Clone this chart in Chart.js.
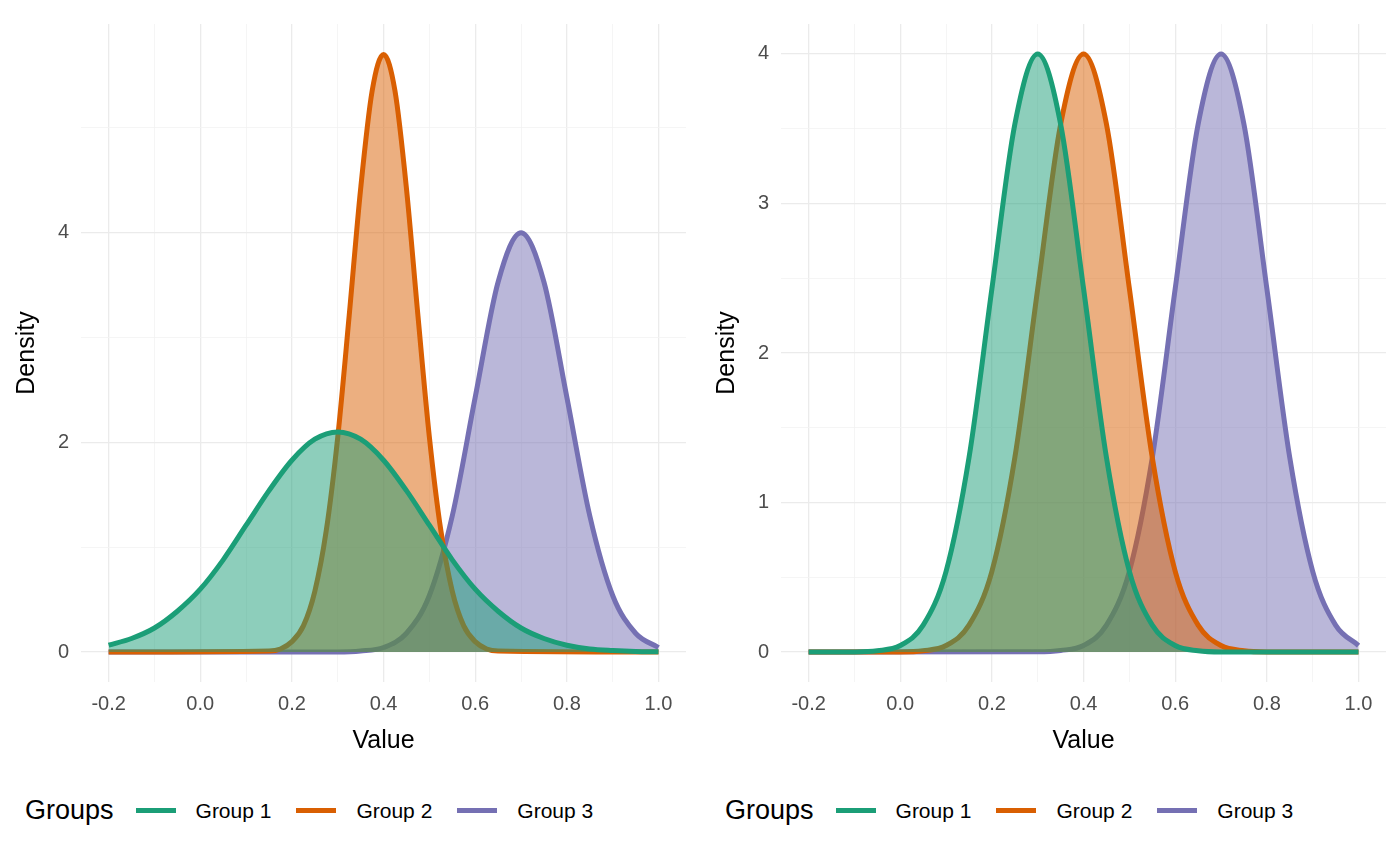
<!DOCTYPE html>
<html>
<head>
<meta charset="utf-8">
<script src="https://cdn.jsdelivr.net/npm/chart.js@4"></script>
<style>
  body { margin: 0; background: #fff; font-family: "Liberation Sans", Arial, sans-serif; }
  .panel { position: absolute; top: 0; width: 700px; height: 865px; overflow: hidden; }
  .cv { position: absolute; left: 0; top: 0; width: 700px; height: 770px; }
  .legend { position: absolute; left: 25px; top: 795px; white-space: nowrap; display: flex; align-items: center; }
  .legend .ttl { font-size: 27px; color: #000; margin-right: 22px; }
  .legend .sw { display: inline-block; width: 40px; height: 5px; margin-right: 20px; }
  .legend .lb { font-size: 21px; color: #000; margin-right: 25px; }
</style>
</head>
<body>
<div class="panel" style="left:0"><div class="cv"><canvas id="left"></canvas></div><div class="legend" id="legL"></div></div>
<div class="panel" style="left:700px"><div class="cv"><canvas id="right"></canvas></div><div class="legend" id="legR"></div></div>
<script>
"use strict";
const groupNames = ["Group 1", "Group 2", "Group 3"];
const colors = ["#1B9E77", "#D95F02", "#7570B3"];
const xTicks = [-0.2, 0, 0.2, 0.4, 0.6, 0.8, 1.0];

// left panel
const leftG1x = [-0.2, -0.15, -0.1, -0.05, 0, 0.05, 0.1, 0.15, 0.2, 0.25, 0.3, 0.35, 0.4, 0.45, 0.5, 0.55, 0.6, 0.65, 0.7, 0.75, 0.8, 0.85, 0.9, 0.95, 1.0];
const leftG1y = [0.066, 0.13, 0.23, 0.39, 0.60, 0.88, 1.21, 1.54, 1.83, 2.03, 2.1, 2.03, 1.83, 1.54, 1.21, 0.88, 0.60, 0.39, 0.23, 0.13, 0.066, 0.03, 0.015, 0.006, 0.003];
const leftG2x = [-0.2, 0.15, 0.175, 0.2, 0.225, 0.25, 0.275, 0.3, 0.325, 0.35, 0.375, 0.4, 0.425, 0.45, 0.475, 0.5, 0.525, 0.55, 0.575, 0.6, 0.625, 0.65, 1.0];
const leftG2y = [0, 0.01, 0.03, 0.10, 0.25, 0.58, 1.16, 2.05, 3.21, 4.42, 5.35, 5.7, 5.35, 4.42, 3.21, 2.05, 1.16, 0.58, 0.25, 0.10, 0.03, 0.01, 0];
const leftG3x = [-0.2, 0.3, 0.35, 0.4, 0.45, 0.5, 0.55, 0.6, 0.65, 0.7, 0.75, 0.8, 0.85, 0.9, 0.95, 1.0];
const leftG3y = [0, 0.002, 0.011, 0.044, 0.18, 0.54, 1.30, 2.43, 3.53, 4, 3.53, 2.43, 1.30, 0.54, 0.18, 0.044];
const leftYTicks = [0, 2, 4];

// right panel
const rightG1x = [-0.2, -0.1, -0.05, 0, 0.05, 0.1, 0.15, 0.2, 0.25, 0.3, 0.35, 0.4, 0.45, 0.5, 0.55, 0.6, 0.65, 0.7, 1.0];
const rightG1y = [0, 0.001, 0.009, 0.044, 0.18, 0.54, 1.30, 2.43, 3.53, 4, 3.53, 2.43, 1.30, 0.54, 0.18, 0.044, 0.009, 0.001, 0];
const rightG2x = [-0.2, 0.0, 0.05, 0.1, 0.15, 0.2, 0.25, 0.3, 0.35, 0.4, 0.45, 0.5, 0.55, 0.6, 0.65, 0.7, 0.75, 0.8, 1.0];
const rightG2y = [0, 0.001, 0.009, 0.044, 0.18, 0.54, 1.30, 2.43, 3.53, 4, 3.53, 2.43, 1.30, 0.54, 0.18, 0.044, 0.009, 0.001, 0];
const rightG3x = leftG3x;
const rightG3y = leftG3y;
const rightYTicks = [0, 1, 2, 3, 4];

const zip = (xs, ys) => xs.map((x, i) => ({ x, y: ys[i] }));
const hexA = (h, a) => h + Math.round(a * 255).toString(16).padStart(2, "0");

const makeChart = (id, series, yMin, yMax, yTicks, yStep) =>
{
    const datasets = series.map(([xs, ys], i) => ({
        label: groupNames[i],
        data: zip(xs, ys),
        borderColor: colors[i],
        backgroundColor: hexA(colors[i], 0.5),
        borderWidth: 5,
        fill: "origin",
        pointRadius: 0,
        cubicInterpolationMode: "monotone"
    }));
    const gridCol = c => c.tick && c.tick.major ? "#EBEBEB" : "#F3F3F3";
    const gridW = c => c.tick && c.tick.major ? 1.3 : 0.8;
    new Chart(document.getElementById(id), {
        type: "line",
        data: { datasets },
        options: {
            responsive: true,
            maintainAspectRatio: false,
            animation: false,
            layout: { padding: { left: 8, right: 14, top: 12, bottom: 10 } },
            plugins: { legend: { display: false }, tooltip: { enabled: false } },
            scales: {
                x: {
                    type: "linear", min: -0.26, max: 1.06,
                    afterBuildTicks: s =>
                    {
                        const t = [];
                        for (let v = -0.3; v <= 1.05; v += 0.1)
                        {
                            const r = Math.round(v * 10) / 10;
                            if (r >= -0.26 && r <= 1.06) t.push({ value: r, major: xTicks.includes(r) });
                        }
                        s.ticks = t;
                    },
                    grid: { color: gridCol, lineWidth: gridW, drawTicks: false },
                    border: { display: false },
                    ticks: {
                        padding: 10, color: "#4D4D4D", font: { size: 20, family: "Liberation Sans" },
                        callback: v => xTicks.includes(Math.round(v * 10) / 10) ? v.toFixed(1) : ""
                    },
                    title: { display: true, text: "Value", color: "#000", font: { size: 25, family: "Liberation Sans" }, padding: { top: 0 } }
                },
                y: {
                    min: yMin, max: yMax,
                    afterBuildTicks: s =>
                    {
                        const t = [];
                        for (let v = 0; v <= yMax; v += yStep / 2) t.push({ value: v, major: yTicks.includes(v) });
                        s.ticks = t;
                    },
                    grid: { color: gridCol, lineWidth: gridW, drawTicks: false },
                    border: { display: false },
                    ticks: {
                        padding: 12, color: "#4D4D4D", font: { size: 20, family: "Liberation Sans" },
                        callback: v => yTicks.includes(v) ? String(v) : ""
                    },
                    title: { display: true, text: "Density", color: "#000", font: { size: 25, family: "Liberation Sans" } }
                }
            }
        }
    });
};

makeChart("left", [[leftG1x, leftG1y], [leftG2x, leftG2y], [leftG3x, leftG3y]], -0.285, 5.99, leftYTicks, 2);
makeChart("right", [[rightG1x, rightG1y], [rightG2x, rightG2y], [rightG3x, rightG3y]], -0.2, 4.2, rightYTicks, 1);

const legendHtml = `<span class="ttl">Groups</span>` +
    groupNames.map((n, i) => `<span class="sw" style="background:${colors[i]}"></span><span class="lb">${n}</span>`).join("");
legL.innerHTML = legendHtml;
legR.innerHTML = legendHtml;
</script>
</body>
</html>
